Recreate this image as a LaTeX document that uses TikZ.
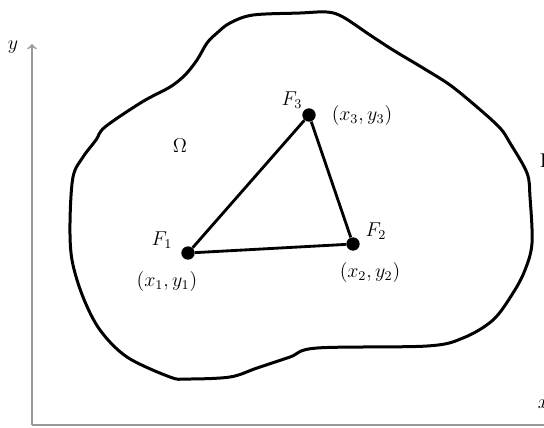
\documentclass[tikz,border=0pt]{standalone}
\usetikzlibrary{arrows}

\begin{document}
\begin{tikzpicture}[x=0.6pt,y=-0.6pt,
	dot/.style={circle,fill=black,inner sep=0pt,minimum size=8pt},
	axis/.style={color=black!40,line width=1.1pt},
	edge/.style={line width=1.7pt},
	lbl/.style={font=\fontsize{12}{14}\selectfont}]
			\useasboundingbox (0,0) rectangle (544,427);
			% axes
			\coordinate (o) at (32,425);
			\coordinate (ytop) at (32,44);
			\coordinate (xend) at (560,425);
			\draw[axis,-to] (o) -- (ytop);
			\draw[axis] (o) -- (xend);
			\node[lbl] (ly) at (13,47) {$y$};
			\node[lbl,anchor=west] (lx) at (532,404) {$x$};
			% region boundary
			\draw[line width=1.8pt] plot[smooth cycle,tension=0.55] coordinates {
				(300,13) (327,12) (343,17) (370,35) (393,50) (423,68) (450,85)
				(477,107) (500,128) (510,143) (527,173) (530,197) (532,243)
				(525,270) (513,293) (493,320) (463,338) (427,346) (317,348)
				(290,357) (257,368) (230,377) (187,379) (170,377) (127,357)
				(100,330) (83,297) (72,260) (70,223) (73,177) (83,157) (96,140)
				(105,127) (142,102) (170,87) (185,75) (197,60) (207,43) (217,33)
				(230,23) (253,15)};
			\node[lbl] (omega) at (180,146) {$\Omega$};
			\node[lbl,anchor=west] (gamma) at (534,161) {$\Gamma$};
			% triangle
			\node[dot] (f1) at (188,253) {};
			\node[dot] (f2) at (353,244) {};
			\node[dot] (f3) at (309,115) {};
			\draw[edge] (f1) -- (f2) -- (f3) -- (f1);
			\node[lbl] (lf1) at (162,240) {$F_1$};
			\node[lbl] (lf2) at (376,231) {$F_2$};
			\node[lbl] (lf3) at (292,100) {$F_3$};
			\node[lbl] (cf1) at (167,281) {$(x_1, y_1)$};
			\node[lbl] (cf2) at (370,272) {$(x_2, y_2)$};
			\node[lbl] (cf3) at (362,115) {$(x_3, y_3)$};
		\end{tikzpicture}
\end{document}
